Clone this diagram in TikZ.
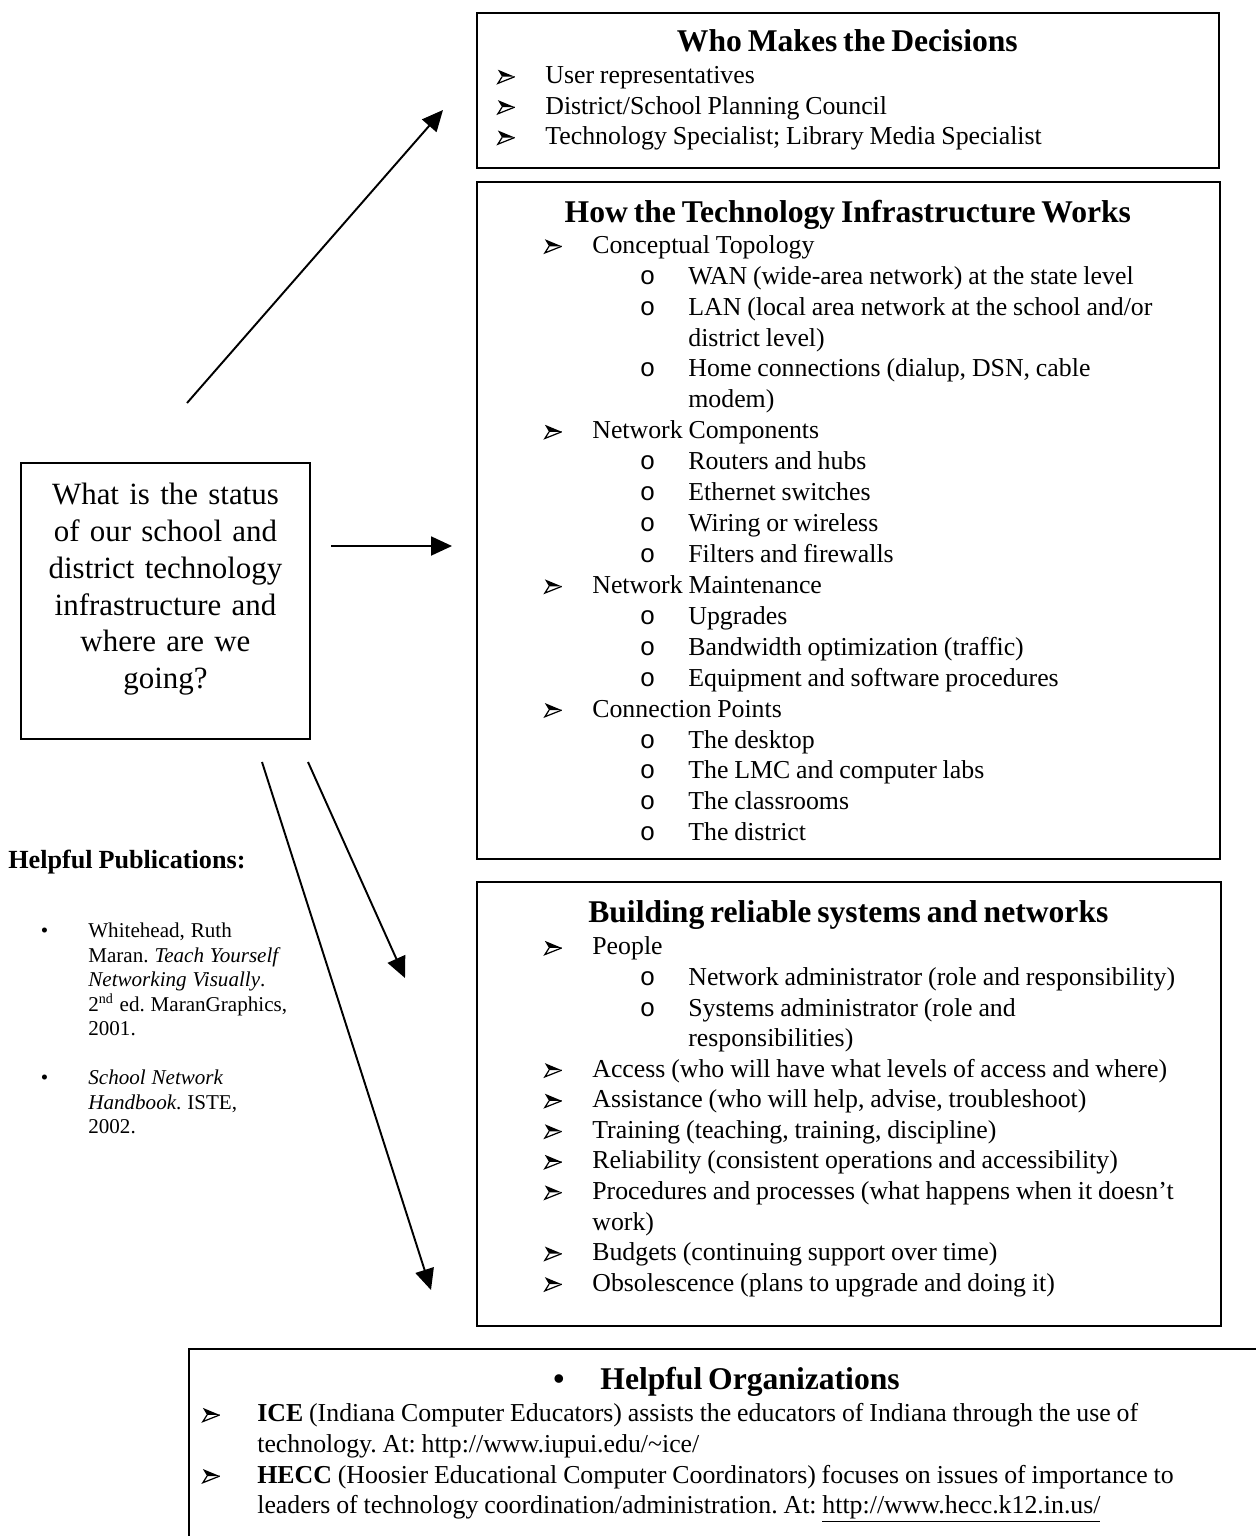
\documentclass[tikz,border=0pt]{standalone}
\usepackage{fontspec}
\setmainfont{Liberation Serif}
\setmonofont{Liberation Mono}
\usetikzlibrary{arrows.meta}
\newlength\pxu
\setlength\pxu{0.02cm}
\frenchspacing
% list markers
\newcommand{\arrb}{\tikz[baseline=0pt,x=1pt,y=1pt,line width=0.7pt]{%
  \fill (0,8) -- (9.6,4) -- (2.4,4) -- cycle;
  \draw[line join=miter] (9.6,4) -- (0,0.2) -- (2.4,4);}}
\newcommand{\bitem}[3][30]{\leftskip=#2\pxu\noindent\llap{\arrb\hspace{#1\pxu}}#3\par}
\newcommand{\oitem}[2]{\leftskip=#1\pxu\noindent\llap{\texttt{o}\hspace{33\pxu}}#2\par}
\newcommand{\pitem}[1]{\leftskip=80\pxu\noindent\llap{\textbullet\hspace{40\pxu}}#1\par}
\newcommand{\headfont}{\fontsize{18}{21}\selectfont\bfseries}
\tikzset{
  frame/.style={draw, line width=1.1pt, inner sep=0pt, anchor=north west},
  txt/.style={inner sep=0pt, anchor=north west, align=left},
  arr/.style={-{Triangle[length=0.42cm,width=0.38cm]}, line width=1.1pt},
}
\begin{document}
\begin{tikzpicture}[x=0.02cm, y=-0.02cm]
  \useasboundingbox (0,0) rectangle (1256,1536);
  \fill[white] (0,0) rectangle (1256,1536);
  \clip (0,0) rectangle (1256,1536);

  % frames
  \node[frame, minimum width=742\pxu, minimum height=155\pxu] (who) at (476,12) {};
  \node[frame, minimum width=743\pxu, minimum height=677\pxu] (infra) at (476,181) {};
  \node[frame, minimum width=744\pxu, minimum height=444\pxu] (build) at (476,881) {};
  \node[frame, minimum width=289\pxu, minimum height=276\pxu] (quest) at (20,462) {};
  \node[frame, minimum width=1082\pxu, minimum height=230\pxu] (orgs) at (188,1348) {};

  % question
  \node[inner sep=0pt, anchor=north, align=center, text width=289\pxu,
        font=\fontsize{17.6}{21}\selectfont] (questtxt) at (quest.north)
       {\rule{0pt}{42\pxu}What is the status\\ of our school and\\ district technology\\
        infrastructure and\\ where are we\\ going?};

  % who makes the decisions
  \node[txt, text width=742\pxu] (whotxt) at (who.north west) {\fontsize{14.7}{17.3}\selectfont
    {\centering\headfont\rule{0pt}{39\pxu}Who Makes the Decisions\par}
    \vspace{2\pxu}
    \bitem{69}{User representatives}
    \bitem{69}{District/School Planning Council}
    \bitem{69}{Technology Specialist; Library Media Specialist}};

  % infrastructure
  \node[txt, text width=743\pxu] (infratxt) at (infra.north west) {\fontsize{14.7}{17.6}\selectfont
    {\centering\headfont\rule{0pt}{41\pxu}How the Technology Infrastructure Works\par}
    \bitem{116}{Conceptual Topology}
    \oitem{212}{WAN (wide-area network) at the state level}
    \oitem{212}{LAN (local area network at the school and/or\newline district level)}
    \oitem{212}{Home connections (dialup, DSN, cable\newline modem)}
    \bitem{116}{Network Components}
    \oitem{212}{Routers and hubs}
    \oitem{212}{Ethernet switches}
    \oitem{212}{Wiring or wireless}
    \oitem{212}{Filters and firewalls}
    \bitem{116}{Network Maintenance}
    \oitem{212}{Upgrades}
    \oitem{212}{Bandwidth optimization (traffic)}
    \oitem{212}{Equipment and software procedures}
    \bitem{116}{Connection Points}
    \oitem{212}{The desktop}
    \oitem{212}{The LMC and computer labs}
    \oitem{212}{The classrooms}
    \oitem{212}{The district}};

  % reliable systems
  \node[txt, text width=744\pxu] (buildtxt) at (build.north west) {\fontsize{14.7}{17.4}\selectfont
    {\centering\headfont\rule{0pt}{41\pxu}Building reliable systems and networks\par}
    \vspace{2\pxu}
    \bitem{116}{People}
    \oitem{212}{Network administrator (role and responsibility)}
    \oitem{212}{Systems administrator (role and\newline responsibilities)}
    \bitem{116}{Access (who will have what levels of access and where)}
    \bitem{116}{Assistance (who will help, advise, troubleshoot)}
    \bitem{116}{Training (teaching, training, discipline)}
    \bitem{116}{Reliability (consistent operations and accessibility)}
    \bitem{116}{Procedures and processes (what happens when it doesn’t\newline work)}
    \bitem{116}{Budgets (continuing support over time)}
    \bitem{116}{Obsolescence (plans to upgrade and doing it)}};

  % publications
  \node[txt, text width=300\pxu] (pubs) at (8,846) {\fontsize{12}{13.9}\selectfont
    {\fontsize{14.9}{17}\selectfont\bfseries\rule{0pt}{22\pxu}Helpful Publications:\par}
    \vspace{45\pxu}
    \pitem{Whitehead, Ruth\newline Maran. \textit{Teach Yourself}\newline
      \textit{Networking Visually}.\newline 2\textsuperscript{nd} ed. MaranGraphics,\newline 2001.}
    \vspace{25\pxu}
    \pitem{\textit{School Network}\newline \textit{Handbook}. ISTE,\newline 2002.}};

  % organizations
  \node[txt, text width=1082\pxu] (orgstxt) at (orgs.north west) {\fontsize{14.7}{17.4}\selectfont
    {\headfont\rule{0pt}{41\pxu}\hspace*{365\pxu}\textbullet\hspace{36\pxu}Helpful Organizations\par}
    \vspace{2\pxu}
    \bitem[37]{69}{\textbf{ICE} (Indiana Computer Educators) assists the educators of Indiana through the use of\newline
      technology. At: http://www.iupui.edu/\textasciitilde ice/}
    \bitem[37]{69}{\textbf{HECC} (Hoosier Educational Computer Coordinators) focuses on issues of importance to\newline
      leaders of technology coordination/administration. At: \underline{http://www.hecc.k12.in.us/}}};

  % connectors
  \coordinate (upS) at (187,403);
  \coordinate (upE) at (443,110);
  \coordinate (midS) at (331,546);
  \coordinate (midE) at (452,546);
  \coordinate (dnS) at (308,762);
  \coordinate (dnE) at (405,978);
  \coordinate (lowS) at (262,762);
  \coordinate (lowE) at (431,1290);
  \draw[arr] (upS) -- (upE);
  \draw[arr] (midS) -- (midE);
  \draw[arr] (dnS) -- (dnE);
  \draw[arr] (lowS) -- (lowE);
\end{tikzpicture}
\end{document}
